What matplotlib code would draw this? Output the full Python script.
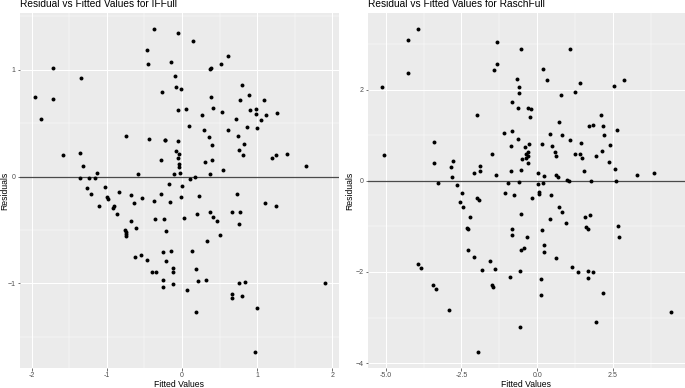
import numpy as np
import matplotlib
matplotlib.use("Agg")
import matplotlib.pyplot as plt
from matplotlib.ticker import FixedLocator

plt.rcParams['font.family'] = ['Liberation Sans', 'DejaVu Sans']

# ---- data ----------------------------------------------------------------
# IFFull: fitted values / residuals
if_fitted = [
    -1.964, -1.880, -1.711, -1.711, -1.587, -1.342, -1.364, -1.320, -1.364, -1.244,
    -1.156, -1.129, -0.747, -0.591, -1.031, -1.271, -1.213, -1.000, -0.991, -0.836,
    -0.684, -0.533, -0.378, -0.467, -0.453, -0.373, -0.436, -0.271, -0.227, -0.222,
    -0.276, -0.147, -0.053, -0.089, -0.080, -0.018, -0.053, 0.053, -0.053, -0.080,
    -0.044, -0.053, -0.036, -0.044, -0.031, -0.107, 0.098, 0.147, 0.107, 0.169,
    0.004, -0.173, -0.284, -0.018, 0.222, 0.267, 0.293, 0.360, 0.396, 0.404,
    0.311, 0.373, 0.369, 0.387, 0.382, 0.409, 0.520, 0.609, 0.529, 0.618,
    0.547, 0.716, 0.747, 0.760, 0.809, 0.827, 0.773, 0.804, 0.889, 0.907,
    0.871, 0.982, 0.987, 1.000, 1.053, 1.098, 1.120, 1.267, 1.204, 1.253,
    1.404, 1.649, 0.733,
    -0.164, -1.102, -0.920, -0.902, -0.640, -0.867, 1.107, 1.249, -0.680, -0.364,
    -0.244, 0.027, 0.200, 0.369, 0.418, 0.462, 0.662, 0.778, 0.764, -0.609,
    -0.755, -0.747, -0.742, -0.747, -0.213, 0.511, 0.329, -0.622, -0.551, -0.471,
    -0.253, -0.142, 0.129, -0.213, -0.396, -0.351, -0.116, -0.116, 0.187, -0.249,
    -0.249, -0.120, 0.062, 0.218, 0.324, 0.764, 0.836, 0.662, 0.662, 0.804,
    0.996, 0.187, 0.969, 1.898,
]
if_resid = [
    0.744, 0.538, 1.013, 0.731, 0.203, 0.928, 0.222, 0.103, -0.016, -0.009,
    -0.016, 0.031, 0.381, 0.022, -0.100, -0.109, -0.163, -0.190, -0.208, -0.140,
    -0.169, -0.197, -0.230, 1.188, 1.056, 1.381, 0.350, 0.794, 0.347, 0.342,
    0.156, 1.075, 1.344, 0.938, 0.844, 0.825, 0.628, 0.631, 0.331, 0.244,
    0.209, 0.178, 0.116, 0.088, 0.034, 0.028, 0.472, 1.269, -0.025, -0.006,
    -0.084, -0.072, -0.163, -0.188, -0.180, 0.581, 0.438, 0.372, 0.294, 0.159,
    0.134, 0.028, 1.006, 1.019, 0.744, 0.640, 1.053, 1.134, 0.606, 0.438,
    0.063, 0.540, 0.384, 0.253, 0.200, 0.306, 0.722, 0.856, 0.769, 0.628,
    0.466, 0.634, 0.590, 0.456, 0.528, 0.722, 0.578, 0.597, 0.175, 0.206,
    0.216, 0.097, -0.166,
    -0.239, -0.270, -0.292, -0.276, -0.248, -0.348, -0.248, -0.270, -0.416, -0.400,
    -0.400, -0.391, -0.354, -0.335, -0.373, -0.413, -0.335, -0.329, -0.441, -0.478,
    -0.500, -0.520, -0.540, -0.559, -0.509, -0.543, -0.606, -0.752, -0.736, -0.776,
    -0.708, -0.699, -0.693, -0.789, -0.891, -0.891, -0.851, -0.888, -0.866, -0.963,
    -1.034, -1.006, -1.062, -0.978, -0.963, -0.997, -0.984, -1.096, -1.137, -1.121,
    -1.227, -1.270, -1.640, -0.997,
]

# RaschFull: fitted values / residuals
rasch_fitted = [
    -5.120, -5.066, -4.265, -4.265, -3.936, -3.410, -3.410, -3.290, -2.851, -2.785,
    -2.818, -2.654, -2.478, -2.094, -1.875, -1.875, -1.996, -1.985, -1.930, -1.502,
    -1.425, -1.327, -1.327, -1.371, -1.096, -1.075, -0.954, -0.877, -0.877, -0.822,
    -0.833, -0.757, -0.669, -0.614, -0.614, -0.636, -0.636, -0.548, -0.592, -0.537,
    -0.515, -0.406, -0.274, -0.318, -0.362, -0.318, -0.362, -0.318, -0.296, -0.208,
    -0.230, 0.033, 0.044, 0.055, 0.066, -0.154, 0.197, 0.241, 0.154, 0.197,
    0.340, 0.428, 0.482, 0.461, 0.603, 0.625, 0.614, 0.691, 0.713, 0.789,
    0.833, 0.976, 1.053, 1.096, 1.096, 1.250, 1.250, 1.404, 1.404, 1.447,
    1.491, 1.546, 1.721, 1.842, 1.765, 1.930, 2.116, 2.138, 2.182, 2.215,
    2.390, 2.423, 2.544, 2.566, 2.599, 2.654, 2.884, 3.289, 3.860,
    -2.544, -2.434, -2.215, -2.303, -2.270, -2.270, -2.094, -1.820, -1.557, -1.393,
    -1.480, -1.447, -0.537, -0.844, -0.844, -0.329, -0.526, -0.439, -0.559, -0.888,
    -0.570, -1.963, -3.925, -3.849, -3.454, -3.344, -2.895, 0.154, 0.241, 0.230,
    0.121, 0.143, 0.439, 0.636, 0.724, 0.833, 0.965, 1.162, 1.360, 1.590,
    1.732, 1.601, 1.667, 1.678, 1.678, 1.842, 2.160, 1.952, 2.686, 2.719,
    4.408,
]
rasch_resid = [
    2.065, 0.567, 3.084, 2.356, 3.324, 0.851, 0.393, -0.044, 0.305, 0.429,
    0.073, -0.095, -0.269, 0.175, 0.327, 0.204, 1.440, -0.387, -0.431, 0.596,
    2.436, 3.047, 2.560, 0.131, 1.040, -0.269, -0.044, 0.204, 0.764, 1.098,
    1.731, -0.313, 2.240, 2.058, 1.913, 1.585, 0.916, 2.887, -0.022, 0.225,
    0.480, 0.749, 0.800, 0.625, 0.589, 0.553, 0.495, 0.393, 1.600, 1.571,
    1.396, 0.167, -0.073, -0.255, -0.284, -0.378, -0.051, 0.102, 0.807, 2.458,
    2.211, 1.018, 0.771, -0.313, 0.640, 0.545, 0.116, 0.087, 1.287, 1.884,
    0.996, 0.015, 0.000, 2.887, 0.902, 1.949, 0.582, 0.582, 2.153, 0.822,
    0.495, 0.218, 1.200, 1.222, -0.007, 0.538, 1.440, 0.655, 1.207, 1.004,
    0.415, 0.785, 2.080, 0.247, -0.015, 1.120, 2.211, 0.116, 0.160,
    -0.474, -0.584, -0.788, -1.036, -1.066, -1.511, -1.672, -1.956, -1.759, -1.934,
    -2.292, -2.321, -0.730, -1.066, -1.190, -1.226, -1.511, -1.467, -1.971, -2.109,
    -3.197, -3.752, -1.818, -1.905, -2.285, -2.380, -2.832, -1.073, -1.401, -1.569,
    -2.161, -2.496, -0.832, -1.701, -0.577, -0.679, -0.934, -1.898, -2.007, -0.803,
    -0.752, -1.007, -1.066, -1.978, -2.124, -2.000, -2.467, -3.102, -0.993, -1.241,
    -2.876,
]

if_xticks = [-2, -1, 0, 1, 2]
if_yticks = [-1, 0, 1]
rasch_xticks = [-5.0, -2.5, 0.0, 2.5]
rasch_xlabels = ["-5.0", "-2.5", "0.0", "2.5"]
rasch_yticks = [-4, -2, 0, 2]

titles = ["Residual vs Fitted Values for IFFull",
          "Residual vs Fitted Values for RaschFull"]

# ---- figure -------------------------------------------------------------
W, H = 685, 388
fig = plt.figure(figsize=(W / 100, H / 100), dpi=100)
fig.patch.set_facecolor("white")


def px_axes(x0, x1, y0, y1):
    return fig.add_axes([x0 / W, 1 - y1 / H, (x1 - x0) / W, (y1 - y0) / H])


def gg_panel(ax, x, y, xticks, xlabels, yticks, title, ylab_x):
    x = np.asarray(x)
    y = np.asarray(y)
    # ggplot default 5% expansion
    xr = x.max() - x.min()
    yr = y.max() - y.min()
    ax.set_xlim(x.min() - 0.05 * xr, x.max() + 0.05 * xr)
    ax.set_ylim(y.min() - 0.05 * yr, y.max() + 0.05 * yr)

    ax.set_facecolor("#EBEBEB")
    for s in ax.spines.values():
        s.set_visible(False)

    ax.xaxis.set_major_locator(FixedLocator(xticks))
    ax.yaxis.set_major_locator(FixedLocator(yticks))
    xm = [(a + b) / 2 for a, b in zip(xticks[:-1], xticks[1:])]
    dx = xticks[1] - xticks[0]
    xm = [xticks[0] - dx / 2] + xm + [xticks[-1] + dx / 2]
    ym = [(a + b) / 2 for a, b in zip(yticks[:-1], yticks[1:])]
    dy = yticks[1] - yticks[0]
    ym = [yticks[0] - dy / 2] + ym + [yticks[-1] + dy / 2]
    ax.xaxis.set_minor_locator(FixedLocator(xm))
    ax.yaxis.set_minor_locator(FixedLocator(ym))
    ax.set_xticklabels(xlabels)

    ax.grid(which="major", color="white", lw=0.75)
    ax.grid(which="minor", color="white", lw=0.35)
    ax.set_axisbelow(True)
    ax.tick_params(which="major", length=1.8, width=0.5, color="#333333",
                   labelsize=5.0, labelcolor="#4D4D4D", pad=1.2)
    ax.tick_params(which="minor", length=0)

    ax.axhline(0, color="#4a4a4a", lw=0.9, zorder=2)
    ax.scatter(x, y, s=8, color="black", linewidths=0, zorder=3)

    ax.set_xlabel("Fitted Values", fontsize=6.2, color="black")
    ax.xaxis.set_label_coords(0.5, -0.054)
    ax.xaxis.label.set_va("baseline")
    ax.set_ylabel("Residuals", fontsize=6.2, color="black")
    ax.yaxis.set_label_coords(ylab_x, 0.5)
    ax.yaxis.label.set_va("center")

    ax.text(0.0, 1.0 + 6 / 355, title, transform=ax.transAxes,
            fontsize=7.3, ha="left", va="baseline")


ax1 = px_axes(20, 339, 13, 368)
gg_panel(ax1, if_fitted, if_resid, if_xticks, [str(t) for t in if_xticks],
         if_yticks, titles[0], -0.048)

ax2 = px_axes(367.7, 685, 13, 368)
gg_panel(ax2, rasch_fitted, rasch_resid, rasch_xticks, rasch_xlabels,
         rasch_yticks, titles[1], -0.056)

fig.savefig("out.png", dpi=100)
